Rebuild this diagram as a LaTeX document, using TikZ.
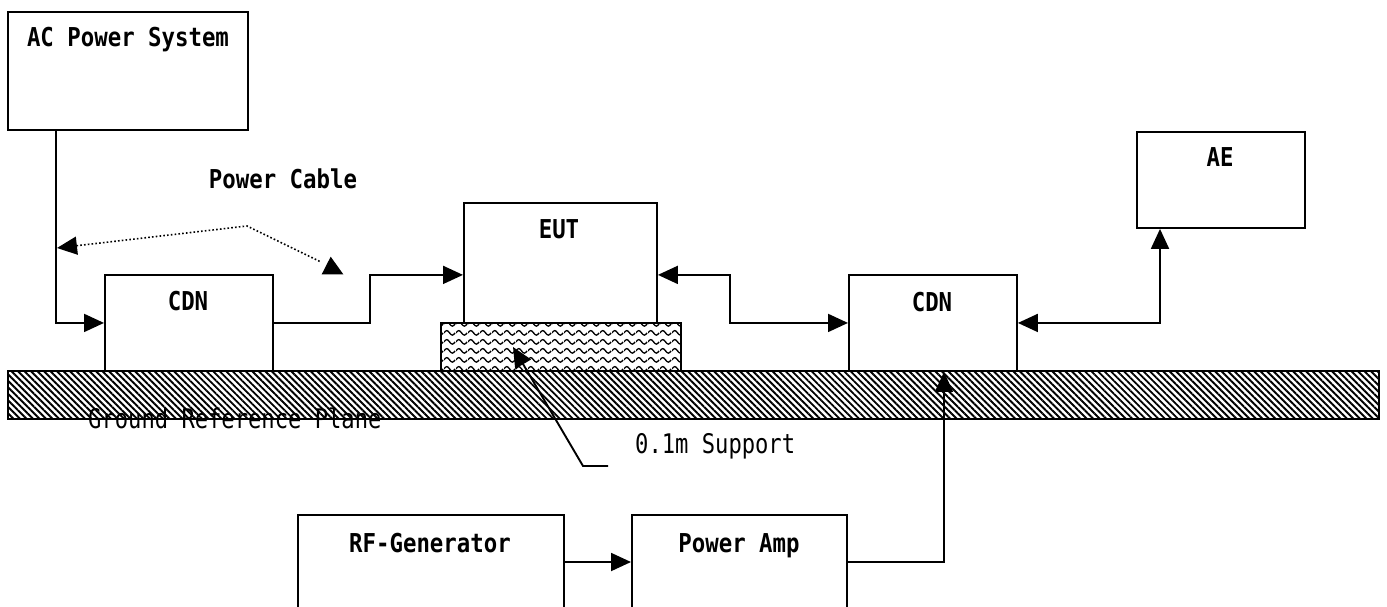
\documentclass[tikz,border=0pt]{standalone}
\usepackage{fontspec}
\newfontfamily\labfont[FakeStretch=0.86]{DejaVu Sans Mono}
\newfontfamily\thinfont[FakeStretch=0.82]{DejaVu Sans Mono}
\usetikzlibrary{arrows.meta,patterns.meta,calc}
\tikzdeclarepattern{
  name=wavy,
  type=uncolored,
  bottom left={(0pt,0pt)},
  top right={(12pt,9pt)},
  tile size={(12pt,9pt)},
  code={
    \draw[line width=1.4pt] (0pt,4.5pt) sin (3pt,7pt) cos (6pt,4.5pt) sin (9pt,2pt) cos (12pt,4.5pt);
  }
}
\tikzset{
  box/.style={draw, line width=1.9pt, rectangle, inner sep=0pt, anchor=north west, fill=white},
  lab/.style={inner sep=0pt, anchor=base, font=\labfont\bfseries\fontsize{26pt}{26pt}\selectfont},
  thinlab/.style={inner sep=0pt, anchor=base west, font=\thinfont\fontsize{27pt}{27pt}\selectfont},
  conn/.style={line width=1.9pt},
  arr/.style={conn, -{Triangle[length=20pt,width=18pt]}},
  arrboth/.style={conn, {Triangle[length=20pt,width=18pt]}-{Triangle[length=20pt,width=18pt]}},
  dotline/.style={line width=1.6pt, dash pattern=on 1.6pt off 2.2pt},
}
\begin{document}
\begin{tikzpicture}[x=1pt,y=-1pt]
\useasboundingbox (0,0) rectangle (1387,607);
\clip (0,0) rectangle (1387,607);
\fill[white] (0,0) rectangle (1387,607);

% ground plane and support
\node[draw, line width=1.9pt, inner sep=0pt, minimum width=1371pt, minimum height=48pt,
      anchor=north west, pattern={Lines[angle=-45,distance=4.6pt,line width=1.9pt]}] (grp) at (7,370) {};
\node[draw, line width=1.9pt, inner sep=0pt, minimum width=240pt, minimum height=48pt,
      anchor=north west, fill=white, postaction={pattern=wavy}] (sup) at (440,322) {};

% boxes
\node[box, minimum width=240pt, minimum height=118pt] (ac) at (7,11) {};
\node[box, minimum width=168pt, minimum height=96pt] (cdn1) at (104,274) {};
\node[box, minimum width=193pt, minimum height=120pt] (eut) at (463,202) {};
\node[box, minimum width=168pt, minimum height=96pt] (cdn2) at (848,274) {};
\node[box, minimum width=168pt, minimum height=96pt] (ae) at (1136,131) {};
\node[box, minimum width=266pt, minimum height=130pt] (rf) at (297,514) {};
\node[box, minimum width=215pt, minimum height=130pt] (pa) at (631,514) {};

% labels
\node[lab] (tac) at (128,47) {AC Power System};
\node[lab] (tpc) at (283,188) {Power Cable};
\node[lab] (teut) at (559,238) {EUT};
\node[lab] (tcdn1) at (188,310) {CDN};
\node[lab] (tcdn2) at (932,311) {CDN};
\node[lab] (tae) at (1220,167) {AE};
\node[lab] (trf) at (430,552) {RF-Generator};
\node[lab] (tpa) at (739,552) {Power Amp};
\node[thinlab] (tgrp) at (88,428) {Ground Reference Plane};
\node[thinlab] (tsup) at (635,453) {0.1m Support};

% connectors
\draw[arr] ($(ac.south west)+(49,0)$) |- (cdn1.west);
\draw[arr] (cdn1.east) -- ++(96,0) |- ($(eut.south west)+(0,-49)$);
\draw[arrboth] ($(eut.south east)+(0,-49)$) -- ++(72,0) |- (cdn2.west);
\draw[arrboth] (cdn2.east) -| ($(ae.south west)+(24,0)$);
\draw[arr] ($(rf.north east)+(0,48)$) -- ($(pa.north west)+(0,48)$);
\draw[arr] ($(pa.north east)+(0,48)$) -| ($(cdn2.south west)+(96,0)$);

% support pointer
\coordinate (spA) at (608,466);
\coordinate (spB) at (583,466);
\draw[arr] (spA) -- (spB) -- ($(sup.west)+(73,0)$);

% power cable dotted pointer
\coordinate (pcA) at (57,248);
\coordinate (pcB) at (247,226);
\coordinate (pcC) at (321,262);
\draw[dotline, {Triangle[length=20pt,width=18pt]}-] (pcA) -- (pcB) -- (pcC);
\fill (321.7,274.3) -- (343.3,274.3) -- (330.7,256.7) -- cycle;
\end{tikzpicture}
\end{document}
